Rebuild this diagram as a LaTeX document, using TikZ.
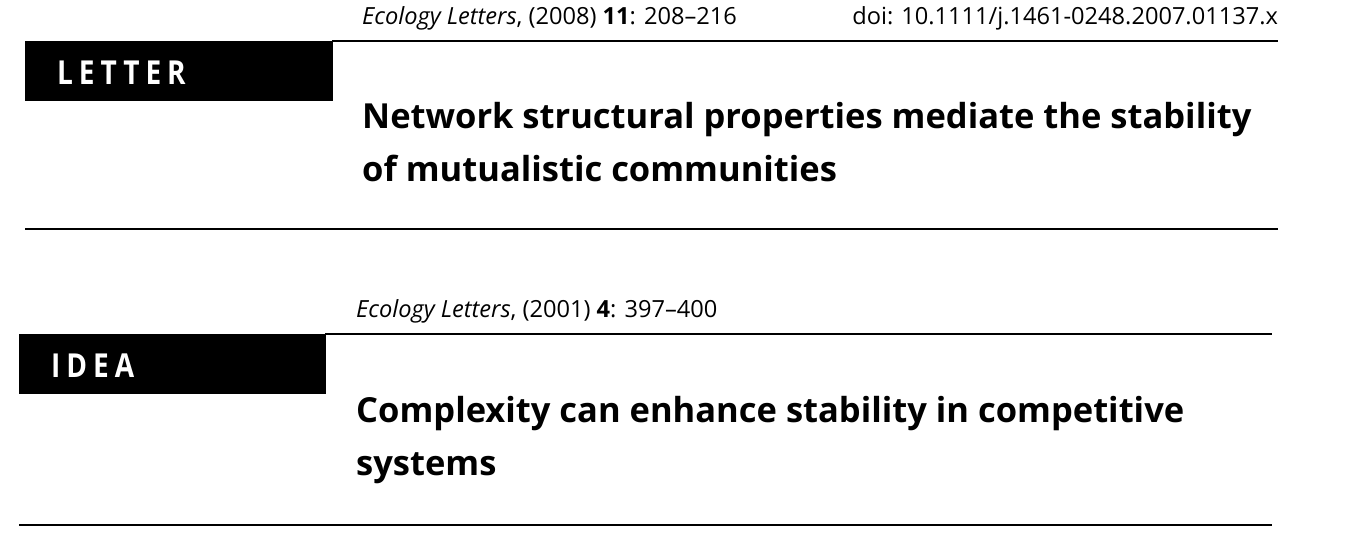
\documentclass[tikz,border=0pt]{standalone}
\usepackage{fontspec}
\setmainfont{Open Sans}
\newfontfamily\tagfont{Open Sans}[FakeStretch=0.85,LetterSpace=18]
\usetikzlibrary{calc}

\tikzset{
	rule/.style={line width=1.6pt},
	tagbox/.style={fill=black},
	jrnl/.style={anchor=base west, inner sep=0pt, font=\fontsize{23.6}{28}\selectfont},
	headline/.style={anchor=base west, inner sep=0pt, font=\fontsize{34.5}{42}\selectfont\bfseries},
	tagtext/.style={anchor=base west, inner sep=0pt, text=white, font=\fontsize{33}{40}\selectfont\tagfont\bfseries},
}

\begin{document}
\begin{tikzpicture}[x=1pt,y=-1pt]
		\useasboundingbox (0,0) rectangle (1357,549);
		%%%%% START %%%%%
		\node[jrnl] (jrnlA) at (362,24) {\textit{Ecology Letters}, (2008) \textbf{11}: 208–216};
		\node[jrnl, anchor=base east] (doiA) at (1278,24) {doi: 10.1111/j.1461-0248.2007.01137.x};
		
		\draw[tagbox] (25,41) rectangle (332,100);
		\draw[rule] (332,41) -- (1278,41);
		\node[tagtext] (tagA) at (57,84) {LETTER};
		
		\node[headline] (titleA) at (362,128) {Network structural properties mediate the stability};
		\node[headline] (titleAb) at (362,181) {of mutualistic communities};
		
		\draw[rule] (25,229) -- (1278,229);
		
		\node[jrnl] (jrnlB) at (356,317) {\textit{Ecology Letters}, (2001) \textbf{4}: 397–400};
		
		\draw[tagbox] (19,334) rectangle (325,393);
		\draw[rule] (325,334) -- (1272,334);
		\node[tagtext] (tagB) at (51,377) {IDEA};
		
		\node[headline] (titleB) at (356,422) {Complexity can enhance stability in competitive};
		\node[headline] (titleBb) at (356,475) {systems};
		
		\draw[rule] (19,525) -- (1272,525);
		%%%%% END %%%%%
	\end{tikzpicture}
\end{document}
